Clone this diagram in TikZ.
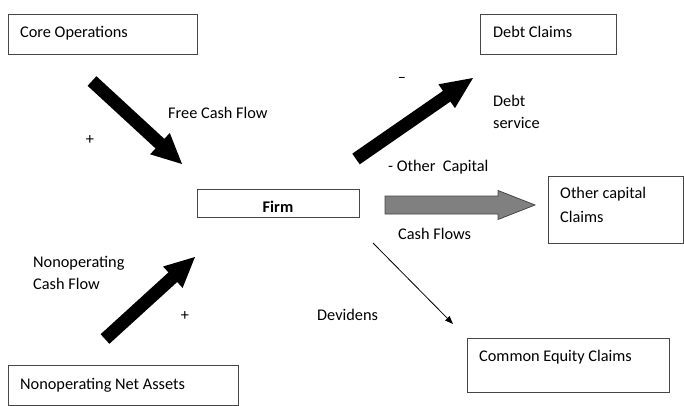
\documentclass[tikz,border=0pt]{standalone}
\usepackage{fontspec}
\setmainfont{Carlito}
\usetikzlibrary{calc,arrows.meta}
\definecolor{boxgray}{RGB}{70,70,70}
\definecolor{arrgray}{RGB}{128,128,128}
\newcommand\blockarr[6]{%
  \coordinate (hb) at ($(#2)!#5!(#1)$);
  \path[#6] ($(#1)!#3!90:(#2)$) -- ($(hb)!#3!90:(#2)$) -- ($(hb)!#4!90:(#2)$) -- (#2)
    -- ($(hb)!#4!-90:(#2)$) -- ($(hb)!#3!-90:(#2)$) -- ($(#1)!#3!-90:(#2)$) -- cycle;}
\begin{document}
\begin{tikzpicture}[x=1pt,y=-1pt,
  box/.style={draw=boxgray, line width=1pt, anchor=north west, inner sep=0pt},
  lbl/.style={anchor=base west, inner sep=0pt, font=\fontsize{16.3}{19}\selectfont},
  sign/.style={inner sep=0pt, font=\fontsize{16.3}{19}\selectfont},
  blk/.style={fill=black},
  gry/.style={fill=arrgray, draw=boxgray, line width=0.8pt}]
\useasboundingbox (0,0) rectangle (684,406);
% boxes
\node[box, minimum width=189pt, minimum height=40pt] (core) at (8,14) {};
\node[box, minimum width=136pt, minimum height=40pt] (debt) at (480,14) {};
\node[box, minimum width=162pt, minimum height=28pt] (firm) at (197,189) {};
\node[box, minimum width=135pt, minimum height=67pt] (other) at (548,176) {};
\node[box, minimum width=230pt, minimum height=40pt] (nonop) at (8,365) {};
\node[box, minimum width=202pt, minimum height=54pt] (equity) at (467,338) {};
% box texts
\node[lbl] (tcore) at (20,37.5) {Core Operations};
\node[lbl] (tdebt) at (493,37.5) {Debt Claims};
\node[lbl, anchor=base, font=\fontsize{16.3}{19}\selectfont\bfseries] (tfirm) at (278,212) {Firm};
\node[lbl] (toth1) at (560,198.5) {Other capital};
\node[lbl] (toth2) at (560,222.5) {Claims};
\node[lbl] (tnonop) at (20,389.5) {Nonoperating Net Assets};
\node[lbl] (tequity) at (479,361.5) {Common Equity Claims};
% flow labels
\node[lbl] (lfcf) at (168,118.5) {Free Cash Flow};
\node[sign] (p1) at (90,140) {+};
\node[sign] (m1) at (402,79.5) {–};
\node[lbl] (ld1) at (493,106.5) {Debt};
\node[lbl] (ld2) at (493,128.5) {service};
\node[lbl] (loc) at (388,171.5) {- Other\ \ Capital};
\node[lbl] (lcf) at (398,239.5) {Cash Flows};
\node[lbl] (lnc1) at (33,267.5) {Nonoperating};
\node[lbl] (lnc2) at (33,289.5) {Cash Flow};
\node[sign] (p2) at (185,316) {+};
\node[lbl] (ldiv) at (317,320.5) {Devidens};
% arrows
\coordinate (a1t) at (92,81);   \coordinate (a1h) at (182,164);
\coordinate (a2t) at (356,159); \coordinate (a2h) at (473,78);
\coordinate (a3t) at (105,339); \coordinate (a3h) at (195,257);
\coordinate (gt) at (385,205);  \coordinate (gh) at (535,205);
\coordinate (tt) at (373,243);  \coordinate (th) at (453,324);
\blockarr{a1t}{a1h}{6.5pt}{14.5pt}{30pt}{blk}
\blockarr{a2t}{a2h}{6.5pt}{14.5pt}{32pt}{blk}
\blockarr{a3t}{a3h}{6.5pt}{14.5pt}{30pt}{blk}
\blockarr{gt}{gh}{9pt}{14.5pt}{37pt}{gry}
\draw[line width=0.8pt, -{Triangle[length=8pt,width=6pt]}] (tt) -- (th);
\end{tikzpicture}
\end{document}
